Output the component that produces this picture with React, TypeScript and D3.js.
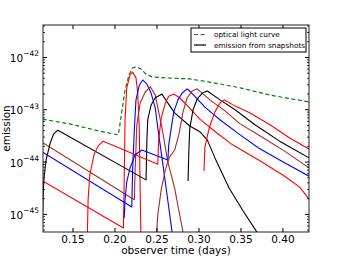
import React from "react";
import * as d3 from "d3";

// each point: [observer time (days), log10(emission)]
type Pt = [number, number];

const xLimits: [number, number] = [0.1143, 0.431];
const yLimitsLog: [number, number] = [-45.337, -41.379];
const xTicks = [0.15, 0.2, 0.25, 0.3, 0.35, 0.4];
const yTickExps = [-45, -44, -43, -42];

const opticalCurve: Pt[] = [
  [0.114, -43.18], [0.146, -43.27], [0.182, -43.41], [0.204, -43.48], [0.207, -43.16],
  [0.212, -42.62], [0.217, -42.32], [0.221, -42.2], [0.226, -42.18], [0.231, -42.22],
  [0.237, -42.32], [0.244, -42.37], [0.26, -42.39], [0.289, -42.41], [0.313, -42.47],
  [0.349, -42.58], [0.385, -42.72], [0.431, -42.85],
];

const snapshot1: Pt[] = [
  [0.114, -44.36], [0.21, -45.26], [0.211, -44.34], [0.212, -43.19], [0.214, -42.58],
  [0.218, -42.33], [0.221, -42.28], [0.225, -42.39], [0.227, -42.66], [0.229, -43.39],
  [0.23, -44.53], [0.231, -45.49],
];
const snapshot2: Pt[] = [
  [0.114, -43.81], [0.22, -44.86], [0.221, -44.15], [0.223, -43.39], [0.225, -42.81],
  [0.229, -42.53], [0.233, -42.43], [0.238, -42.51], [0.243, -42.68], [0.248, -42.97],
  [0.251, -43.35], [0.256, -43.92], [0.262, -44.63], [0.268, -45.34], [0.27, -45.58],
];
const snapshot3: Pt[] = [
  [0.114, -43.63], [0.223, -44.72], [0.224, -44.15], [0.226, -43.29], [0.23, -42.87],
  [0.236, -42.66], [0.242, -42.56], [0.248, -42.72], [0.252, -43.04], [0.256, -43.35],
  [0.263, -44.0], [0.271, -44.5], [0.281, -45.34], [0.283, -45.58],
];
const snapshot4: Pt[] = [
  [0.114, -44.95], [0.115, -44.38], [0.118, -43.96], [0.123, -43.63], [0.127, -43.46],
  [0.132, -43.39], [0.237, -44.34], [0.238, -43.58], [0.239, -43.19], [0.243, -42.91],
  [0.248, -42.77], [0.256, -42.7], [0.262, -42.85], [0.271, -43.06], [0.289, -43.31],
  [0.301, -43.42], [0.31, -43.58], [0.319, -43.92], [0.336, -44.5], [0.352, -44.92],
  [0.369, -45.34], [0.375, -45.49],
];
const snapshot5: Pt[] = [
  [0.167, -45.49], [0.168, -44.72], [0.17, -44.25], [0.175, -43.86], [0.18, -43.69],
  [0.186, -43.6], [0.251, -44.04], [0.252, -43.58], [0.255, -43.16], [0.26, -42.87],
  [0.264, -42.74], [0.27, -42.7], [0.277, -42.77], [0.289, -42.97], [0.301, -43.18],
  [0.321, -43.44], [0.34, -43.67], [0.373, -43.98], [0.402, -44.27], [0.42, -44.48],
  [0.431, -44.71],
];
const snapshot6: Pt[] = [
  [0.211, -45.07], [0.212, -44.72], [0.214, -44.38], [0.218, -44.11], [0.224, -43.86],
  [0.232, -43.77], [0.263, -43.96], [0.264, -43.67], [0.267, -43.35], [0.27, -43.04],
  [0.275, -42.81], [0.28, -42.68], [0.286, -42.6], [0.295, -42.74], [0.307, -42.95],
  [0.325, -43.19], [0.349, -43.48], [0.371, -43.73], [0.396, -43.96], [0.431, -44.27],
];
const snapshot7: Pt[] = [
  [0.249, -45.49], [0.251, -45.01], [0.255, -44.53], [0.26, -44.15], [0.265, -43.9],
  [0.271, -43.77], [0.276, -43.48], [0.281, -43.04], [0.286, -42.77], [0.292, -42.64],
  [0.298, -42.6], [0.313, -42.81], [0.331, -43.02], [0.349, -43.27], [0.373, -43.5],
  [0.402, -43.79], [0.431, -44.11],
];
const snapshot8: Pt[] = [
  [0.287, -44.36], [0.288, -43.77], [0.289, -43.35], [0.293, -43.0], [0.298, -42.79],
  [0.304, -42.68], [0.31, -42.64], [0.325, -42.81], [0.343, -43.0], [0.367, -43.29],
  [0.396, -43.6], [0.431, -43.92],
];
const snapshot9: Pt[] = [
  [0.306, -44.17], [0.307, -43.73], [0.31, -43.5], [0.313, -43.31], [0.319, -43.04],
  [0.325, -42.87], [0.33, -42.81], [0.343, -42.93], [0.361, -43.06], [0.385, -43.29],
  [0.408, -43.54], [0.431, -43.75],
];

const snapshots = [
  snapshot1, snapshot2, snapshot3, snapshot4, snapshot5,
  snapshot6, snapshot7, snapshot8, snapshot9,
];
const cycleColors = ["#ff0000", "#0000ff", "#a52a2a", "#000000"];

const legendLabels = ["optical light curve", "emission from snapshots"];

const W = 344;
const H = 258;
const margin = { top: 25, right: 35, bottom: 26, left: 43 };
const font = "'DejaVu Sans', sans-serif";

export default function App() {
  const x0 = margin.left;
  const x1 = W - margin.right;
  const y0 = margin.top;
  const y1 = H - margin.bottom;

  const xScale = d3.scaleLinear().domain(xLimits).range([x0, x1]);
  const yScale = d3
    .scaleLog()
    .domain([10 ** yLimitsLog[0], 10 ** yLimitsLog[1]])
    .range([y1, y0]);

  const line = d3
    .line<Pt>()
    .x((d) => xScale(d[0]))
    .y((d) => yScale(10 ** d[1]))
    .curve(d3.curveLinear);

  // minor ticks 2..9 x 10^n inside the range
  const minorTicks: number[] = [];
  for (let e = -46; e <= -42; e++) {
    for (let m = 2; m <= 9; m++) {
      const v = m * 10 ** e;
      if (v > 10 ** yLimitsLog[0] && v < 10 ** yLimitsLog[1]) minorTicks.push(v);
    }
  }

  const lx = 191;
  const ly = 28;

  return (
    <div style={{ position: "fixed", left: 0, top: 0 }}>
      <svg width={W} height={H} style={{ display: "block", background: "#fff" }} fontFamily={font}>
        <defs>
          <clipPath id="plotClip">
            <rect x={x0} y={y0} width={x1 - x0} height={y1 - y0} />
          </clipPath>
        </defs>

        <g clipPath="url(#plotClip)" fill="none">
          <path d={line(opticalCurve) || ""} stroke="#008000" strokeWidth={1.2} strokeDasharray="4,2.6" />
          {snapshots.map((s, i) => (
            <path
              key={i}
              d={line(s) || ""}
              stroke={cycleColors[i % cycleColors.length]}
              strokeWidth={1.1}
              strokeLinejoin="round"
            />
          ))}
        </g>

        {/* frame */}
        <rect x={x0} y={y0} width={x1 - x0} height={y1 - y0} fill="none" stroke="#222" strokeWidth={1} />

        {/* x ticks, inward on bottom and top */}
        {xTicks.map((t) => (
          <g key={t}>
            <line x1={xScale(t)} x2={xScale(t)} y1={y1} y2={y1 - 4} stroke="#000" />
            <line x1={xScale(t)} x2={xScale(t)} y1={y0} y2={y0 + 4} stroke="#000" />
            <text x={xScale(t)} y={y1 + 10.5} fontSize={10.5} textAnchor="middle">
              {t.toFixed(2)}
            </text>
          </g>
        ))}

        {/* y major ticks */}
        {yTickExps.map((e) => {
          const y = yScale(10 ** e);
          return (
            <g key={e}>
              <line x1={x0} x2={x0 + 4} y1={y} y2={y} stroke="#000" />
              <line x1={x1} x2={x1 - 4} y1={y} y2={y} stroke="#000" />
              <text x={x0 - 4} y={y + 4.5} fontSize={10.5} textAnchor="end">
                <tspan>10</tspan>
                <tspan dy={-5.5} fontSize={7.5}>{"\u2212" + Math.abs(e)}</tspan>
              </text>
            </g>
          );
        })}

        {/* y minor ticks */}
        {minorTicks.map((v, i) => {
          const y = yScale(v);
          return (
            <g key={"m" + i}>
              <line x1={x0} x2={x0 + 2} y1={y} y2={y} stroke="#000" strokeWidth={0.8} />
              <line x1={x1} x2={x1 - 2} y1={y} y2={y} stroke="#000" strokeWidth={0.8} />
            </g>
          );
        })}

        {/* axis labels */}
        <text x={(x0 + x1) / 2} y={H - 4} fontSize={10.5} textAnchor="middle">
          observer time (days)
        </text>
        <text
          transform={`translate(10,${(y0 + y1) / 2}) rotate(-90)`}
          fontSize={10.5}
          textAnchor="middle"
        >
          emission
        </text>

        {/* legend */}
        <g>
          <rect x={lx} y={ly} width={115} height={24} fill="#fff" stroke="#000" strokeWidth={1} />
          <line x1={lx + 3} x2={lx + 15} y1={ly + 6.5} y2={ly + 6.5} stroke="#008000" strokeWidth={1.2} strokeDasharray="4,2.6" />
          <text x={lx + 23} y={ly + 9} fontSize={7.3}>{legendLabels[0]}</text>
          <line x1={lx + 3} x2={lx + 15} y1={ly + 17} y2={ly + 17} stroke="#000" strokeWidth={1.2} />
          <text x={lx + 23} y={ly + 19.5} fontSize={7.3}>{legendLabels[1]}</text>
        </g>
      </svg>
    </div>
  );
}
